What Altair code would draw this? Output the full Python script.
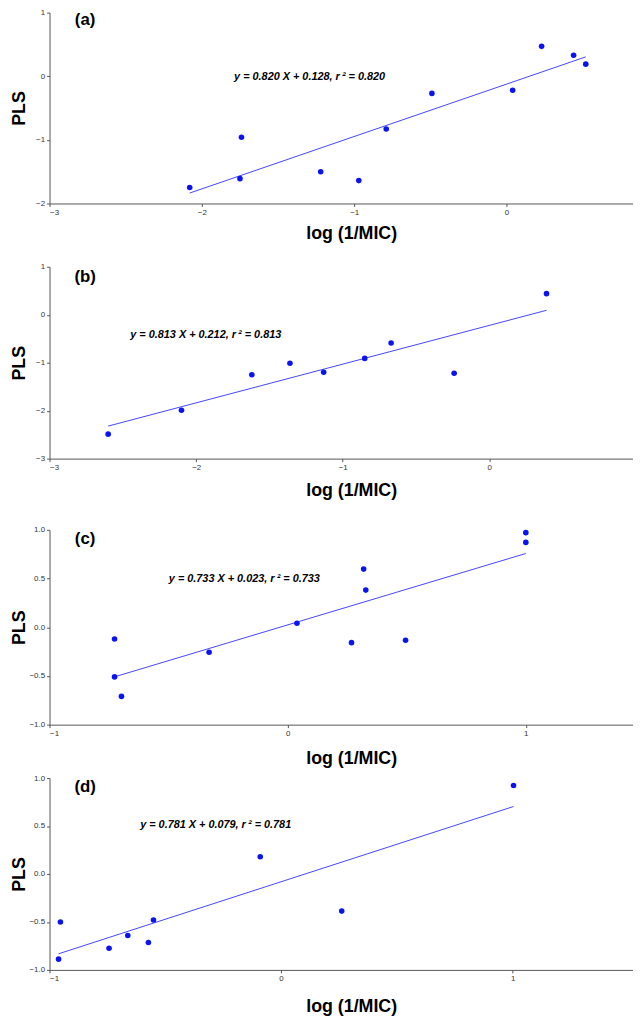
import altair as alt
import pandas as pd

# ---- data ----
a_x = [-2.08, -1.74, -1.75, -1.22, -0.97, -0.79, -0.49, 0.04, 0.23, 0.44, 0.52]
a_y = [-1.75, -0.96, -1.61, -1.50, -1.64, -0.83, -0.27, -0.22, 0.47, 0.33, 0.19]
b_x = [-2.60, -2.10, -1.62, -1.36, -1.13, -0.85, -0.67, -0.24, 0.39]
b_y = [-2.49, -1.99, -1.25, -1.01, -1.20, -0.91, -0.59, -1.22, 0.44]
c_x = [-0.727, -0.727, -0.698, -0.330, 0.039, 0.268, 0.319, 0.328, 0.495, 1.0, 1.0]
c_y = [-0.12, -0.51, -0.71, -0.257, 0.041, -0.158, 0.597, 0.381, -0.134, 0.971, 0.871]
d_x = [-0.961, -0.953, -0.743, -0.662, -0.573, -0.551, -0.090, 0.262, 1.004]
d_y = [-0.888, -0.50, -0.774, -0.642, -0.715, -0.480, 0.180, -0.387, 0.922]

panel_labels = ["(a)", "(b)", "(c)", "(d)"]
equations = [
    "y = 0.820 X + 0.128, r\u2009\u00b2 = 0.820",
    "y = 0.813 X + 0.212, r\u2009\u00b2 = 0.813",
    "y = 0.733 X + 0.023, r\u2009\u00b2 = 0.733",
    "y = 0.781 X + 0.079, r\u2009\u00b2 = 0.781",
]
x_domains = [[-3, 0.83], [-3, 0.98], [-1, 1.45], [-1, 1.52]]
y_domains = [[-2, 1], [-3, 1], [-1, 1], [-1, 1]]
x_ticks = [[-3, -2, -1, 0], [-3, -2, -1, 0], [-1, 0, 1], [-1, 0, 1]]
y_ticks = [[-2, -1, 0, 1], [-3, -2, -1, 0, 1], [-1, -0.5, 0, 0.5, 1], [-1, -0.5, 0, 0.5, 1]]
y_formats = ["d", "d", ".1f", ".1f"]

FONT = "Liberation Sans"
W = 590


def panel(xs, ys, i, h, eq_pos, lab_pos, title_y):
    df = pd.DataFrame({"x": xs, "y": ys})
    xs_ = alt.Scale(domain=x_domains[i], nice=False, zero=False)
    ys_ = alt.Scale(domain=y_domains[i], nice=False, zero=False)
    xax = alt.Axis(values=x_ticks[i], format="d", title="log (1/MIC)", grid=False,
                   titleFont=FONT, titleFontSize=18, titleFontWeight="bold",
                   titleColor="black", titleBaseline="alphabetic", titleY=title_y,
                   titleX=305, labelFont=FONT, labelFontSize=8, labelColor="#333",
                   tickSize=3, tickColor="#555", domainColor="#555", labelPadding=2)
    yax = alt.Axis(values=y_ticks[i], format=y_formats[i], title="PLS", grid=False,
                   titleFont=FONT, titleFontSize=18, titleFontWeight="bold",
                   titleColor="black", titleX=-30, titleY=h / 2,
                   titleBaseline="middle", titleAngle=-90,
                   labelFont=FONT, labelFontSize=8, labelColor="#333",
                   tickSize=3, tickColor="#555", domainColor="#555", labelPadding=2)
    base = alt.Chart(df)
    line = base.transform_regression("x", "y").mark_line(
        color="#4545ff", strokeWidth=1, clip=True
    ).encode(x=alt.X("x:Q", scale=xs_, axis=xax), y=alt.Y("y:Q", scale=ys_, axis=yax))
    pts = base.mark_circle(color="#0a14f0", opacity=1, size=32).encode(
        x=alt.X("x:Q", scale=xs_), y=alt.Y("y:Q", scale=ys_)
    )
    eq = alt.Chart(pd.DataFrame({"t": [equations[i]]})).mark_text(
        font=FONT, fontSize=11, fontWeight="bold", fontStyle="italic",
        color="black", align="center", baseline="middle"
    ).encode(text="t:N", x=alt.value(eq_pos[0]), y=alt.value(eq_pos[1]))
    lab = alt.Chart(pd.DataFrame({"t": [panel_labels[i]]})).mark_text(
        font=FONT, fontSize=17, fontWeight="bold", color="black",
        align="center", baseline="middle"
    ).encode(text="t:N", x=alt.value(lab_pos[0]), y=alt.value(lab_pos[1]))
    return alt.layer(line, pts, eq, lab).properties(width=W, height=h)


pa = panel(a_x, a_y, 0, 193, (263, 65), (36, 8), 35)
pb = panel(b_x, b_y, 1, 194, (158, 69), (36, 10), 37)
pc = panel(c_x, c_y, 2, 197, (197, 50), (36, 9), 39)
pd_ = panel(d_x, d_y, 3, 194, (168, 48), (36, 9), 42)

chart = alt.vconcat(
    alt.vconcat(pa, pb, spacing=21),
    alt.vconcat(pc, pd_, spacing=7),
    spacing=27,
).properties(
    padding={"left": 3, "top": -5, "right": 0, "bottom": 0}
).configure_view(stroke=None)

chart.save("out.html", embed_options={"renderer": "svg", "actions": False})
